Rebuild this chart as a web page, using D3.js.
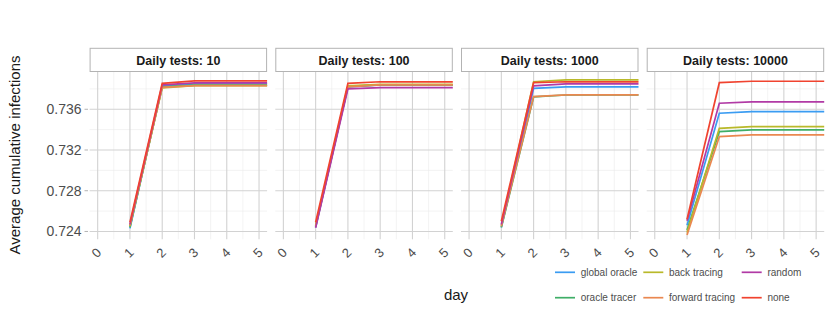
<!DOCTYPE html>
<html>
<head>
<meta charset="utf-8">
<script src="https://cdn.jsdelivr.net/npm/d3@7"></script>
<style>
  body { margin: 0; background: #fff; }
  text { font-family: "Liberation Sans", Arial, sans-serif; }
</style>
</head>
<body>
<div id="chart"></div>
<script>
// data (lines run to the panel's right edge)
var days = [1, 2, 3, 4, 5, 5.25];
var dayTicks = [0, 1, 2, 3, 4, 5];
var yTicks = [0.724, 0.728, 0.732, 0.736];
var yMinor = [0.726, 0.730, 0.734, 0.738];
var panelLabels = ["Daily tests: 10", "Daily tests: 100", "Daily tests: 1000", "Daily tests: 10000"];
var strategies = ["global oracle", "oracle tracer", "back tracing", "forward tracing", "random", "none"];
var colors = ["#3a9cf2", "#3fae67", "#b9b92a", "#ea8850", "#b13aa5", "#f0432f"];
var legendOrder = ["global oracle", "back tracing", "random", "oracle tracer", "forward tracing", "none"];

// one array per strategy, one row per panel
var globalOracle = [
    [0.7243, 0.7383, 0.7385, 0.7385, 0.7385, 0.7385],
    [0.7244, 0.7382, 0.7384, 0.7384, 0.7384, 0.7384],
    [0.7244, 0.73806, 0.7382, 0.7382, 0.7382, 0.7382],
    [0.7246, 0.73561, 0.73576, 0.73576, 0.73576, 0.73576]
];
var oracleTracer = [
    [0.7244, 0.7382, 0.73838, 0.73838, 0.73838, 0.73838],
    [0.7245, 0.73825, 0.7384, 0.7384, 0.7384, 0.7384],
    [0.7244, 0.73722, 0.7374, 0.7374, 0.7374, 0.7374],
    [0.72415, 0.7338, 0.73397, 0.73397, 0.73397, 0.73397]
];
var backTracing = [
    [0.7245, 0.7381, 0.73832, 0.73832, 0.73832, 0.73832],
    [0.7246, 0.7383, 0.73845, 0.73845, 0.73845, 0.73845],
    [0.7246, 0.7387, 0.73888, 0.73888, 0.73888, 0.73888],
    [0.7239, 0.73413, 0.73429, 0.73429, 0.73429, 0.73429]
];
var forwardTracing = [
    [0.7246, 0.73815, 0.73832, 0.73832, 0.73832, 0.73832],
    [0.7245, 0.7382, 0.7384, 0.7384, 0.7384, 0.7384],
    [0.7245, 0.73724, 0.73741, 0.73741, 0.73741, 0.73741],
    [0.72366, 0.73331, 0.73348, 0.73348, 0.73348, 0.73348]
];
var random = [
    [0.7247, 0.7384, 0.7386, 0.7386, 0.7386, 0.7386],
    [0.72437, 0.738, 0.73812, 0.73812, 0.73812, 0.73812],
    [0.7247, 0.7383, 0.73849, 0.73849, 0.73849, 0.73849],
    [0.72506, 0.73659, 0.73672, 0.73672, 0.73672, 0.73672]
];
var none = [
    [0.7249, 0.73855, 0.73878, 0.73878, 0.73878, 0.73878],
    [0.7249, 0.73855, 0.7387, 0.7387, 0.7387, 0.7387],
    [0.725, 0.73862, 0.7387, 0.7387, 0.7387, 0.7387],
    [0.7252, 0.73861, 0.73875, 0.73875, 0.73875, 0.73875]
];
var seriesValues = [globalOracle, oracleTracer, backTracing, forwardTracing, random, none];

var width = 830, height = 312;
var panelW = 177.5, panelGap = 8.2, left0 = 89.6;
var stripTop = 48.3, panelTop = 72, panelBottom = 239.3;

var svg = d3.select("#chart").append("svg")
    .attr("width", width)
    .attr("height", height);

var x = d3.scaleLinear().domain([-0.25, 5.25]).range([0, panelW]);
var y = d3.scaleLinear().domain([0.72323, 0.73966]).range([panelBottom, panelTop]);

var line = d3.line()
    .x(function(d) { return x(d.day); })
    .y(function(d) { return y(d.value); });

panelLabels.forEach(function(label, p) {
    var g = svg.append("g")
        .attr("transform", "translate(" + (left0 + p * (panelW + panelGap)) + ",0)");

    // minor grid
    g.selectAll(".ymin").data(yMinor).enter().append("line")
        .attr("x1", 0).attr("x2", panelW)
        .attr("y1", function(d) { return y(d); }).attr("y2", function(d) { return y(d); })
        .attr("stroke", "#ebebeb").attr("stroke-width", 0.6);
    g.selectAll(".xmin").data([0.5, 1.5, 2.5, 3.5, 4.5]).enter().append("line")
        .attr("y1", panelTop).attr("y2", panelBottom)
        .attr("x1", function(d) { return x(d); }).attr("x2", function(d) { return x(d); })
        .attr("stroke", "#ebebeb").attr("stroke-width", 0.6);

    // major grid
    g.selectAll(".ymaj").data(yTicks).enter().append("line")
        .attr("x1", 0).attr("x2", panelW)
        .attr("y1", function(d) { return y(d); }).attr("y2", function(d) { return y(d); })
        .attr("stroke", "#d2d2d2").attr("stroke-width", 1.1);
    g.selectAll(".xmaj").data(dayTicks).enter().append("line")
        .attr("y1", panelTop).attr("y2", panelBottom)
        .attr("x1", function(d) { return x(d); }).attr("x2", function(d) { return x(d); })
        .attr("stroke", "#d2d2d2").attr("stroke-width", 1.1);

    // strip
    g.append("rect")
        .attr("x", 0.5).attr("y", stripTop)
        .attr("width", panelW - 1).attr("height", panelTop - stripTop - 0.5)
        .attr("fill", "#fff").attr("stroke", "#b3b3b3").attr("stroke-width", 1);
    g.append("text")
        .attr("x", panelW / 2).attr("y", (stripTop + panelTop) / 2 + 4.5)
        .attr("text-anchor", "middle")
        .style("font-size", "12.5px").style("font-weight", "bold")
        .attr("fill", "#1a1a1a")
        .text(label);

    // lines
    strategies.forEach(function(s, i) {
        var data = days.map(function(dy, k) { return {day: dy, value: seriesValues[i][p][k]}; });
        g.append("path")
            .datum(data)
            .attr("fill", "none")
            .attr("stroke", colors[i])
            .attr("stroke-width", 1.7)
            .attr("d", line);
    });

    // x tick labels
    g.selectAll(".xl").data(dayTicks).enter().append("text")
        .attr("transform", function(d) { return "translate(" + (x(d) + 2) + ",256) rotate(-45)"; })
        .attr("text-anchor", "middle")
        .style("font-size", "13px")
        .attr("fill", "#4d4d4d")
        .text(function(d) { return d; });
});

// y axis labels and ticks
svg.selectAll(".yl").data(yTicks).enter().append("text")
    .attr("x", 81.5).attr("y", function(d) { return y(d) + 5; })
    .attr("text-anchor", "end")
    .style("font-size", "14px")
    .attr("fill", "#4d4d4d")
    .text(function(d) { return d3.format(".3f")(d); });
svg.selectAll(".yt").data(yTicks).enter().append("line")
    .attr("x1", 84.5).attr("x2", 88)
    .attr("y1", function(d) { return y(d); }).attr("y2", function(d) { return y(d); })
    .attr("stroke", "#b3b3b3").attr("stroke-width", 1);

// axis titles
svg.append("text")
    .attr("transform", "translate(20," + 155 + ") rotate(-90)")
    .attr("text-anchor", "middle")
    .style("font-size", "15px")
    .attr("fill", "#1a1a1a")
    .text("Average cumulative infections");
svg.append("text")
    .attr("x", 456).attr("y", 300)
    .attr("text-anchor", "middle")
    .style("font-size", "15px")
    .attr("fill", "#1a1a1a")
    .text("day");

// legend
var legX = [555, 643.3, 741.7], legY = [272.3, 297.7];
legendOrder.forEach(function(name, i) {
    var col = i % 3, row = Math.floor(i / 3);
    var c = colors[strategies.indexOf(name)];
    var lg = svg.append("g")
        .attr("transform", "translate(" + legX[col] + "," + legY[row] + ")");
    lg.append("line")
        .attr("x1", 0).attr("x2", 20).attr("y1", 0).attr("y2", 0)
        .attr("stroke", c).attr("stroke-width", 1.7);
    lg.append("text")
        .attr("x", 25.7).attr("y", 3.6)
        .style("font-size", "10px")
        .attr("fill", "#4d4d4d")
        .text(name);
});
</script>
</body>
</html>
